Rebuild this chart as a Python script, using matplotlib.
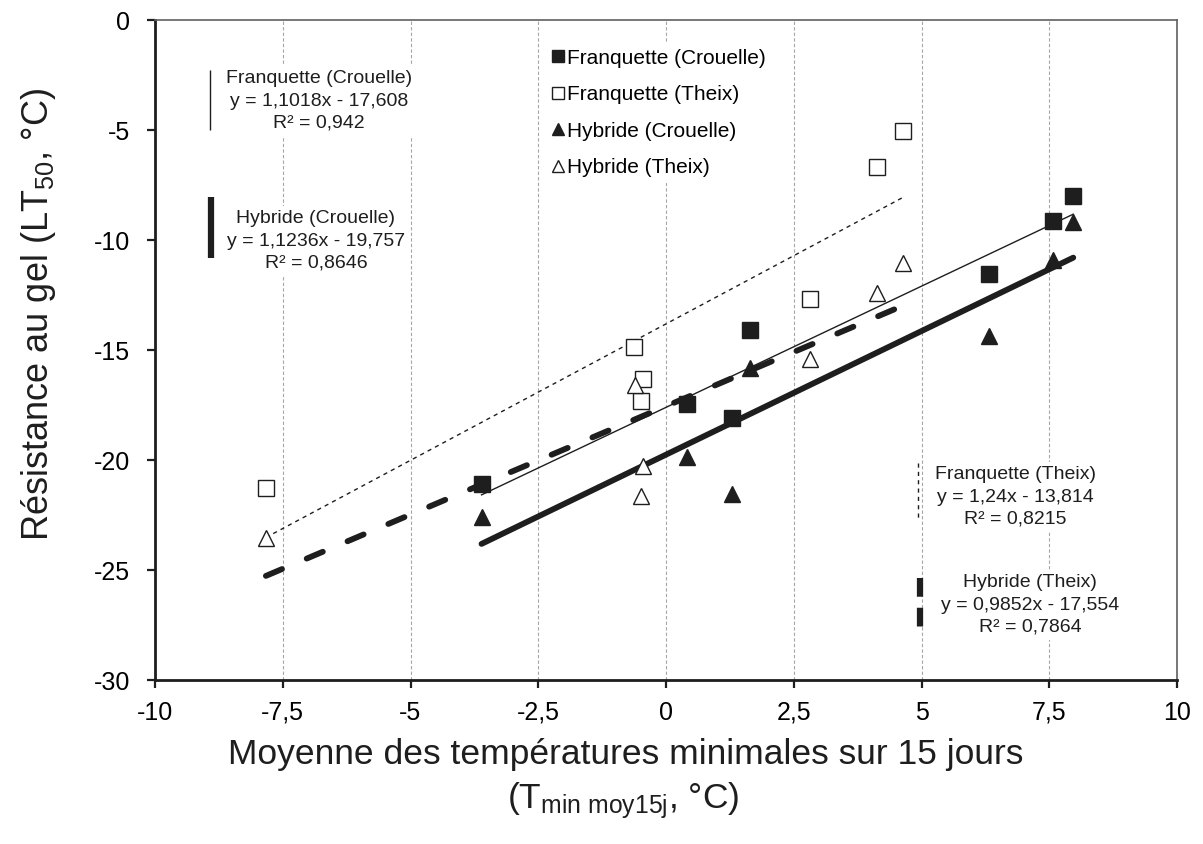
import numpy as np
import matplotlib
matplotlib.use('Agg')
import matplotlib.pyplot as plt
from matplotlib.lines import Line2D

plt.rcParams['font.family'] = ['Liberation Sans', 'DejaVu Sans']
plt.rcParams['mathtext.fontset'] = 'custom'
plt.rcParams['mathtext.rm'] = 'Liberation Sans'
plt.rcParams['mathtext.it'] = 'Liberation Sans:italic'
plt.rcParams['axes.unicode_minus'] = False

# data
fc_x = [-3.61, 0.42, 1.30, 1.64, 6.33, 7.58, 7.97]
fc_y = [-21.1, -17.45, -18.1, -14.1, -11.55, -9.15, -8.0]
ft_x = [-7.83, -0.63, -0.45, -0.49, 2.82, 4.13, 4.64]
ft_y = [-21.25, -14.85, -16.3, -17.3, -12.7, -6.7, -5.05]
hc_x = [-3.61, 0.42, 1.30, 1.64, 6.33, 7.58, 7.97]
hc_y = [-22.6, -19.85, -21.55, -15.8, -14.35, -10.9, -9.2]
ht_x = [-7.83, -0.60, -0.45, -0.49, 2.82, 4.13, 4.64]
ht_y = [-23.55, -16.6, -20.25, -21.65, -15.4, -12.4, -11.05]

# trendline coefficients as printed on the chart
slopes = [1.1018, 1.24, 1.1236, 0.9852]
intercepts = [-17.608, -13.814, -19.757, -17.554]
r2 = ['0,942', '0,8215', '0,8646', '0,7864']
names = ['Franquette (Crouelle)', 'Franquette (Theix)', 'Hybride (Crouelle)', 'Hybride (Theix)']

k = '#1e1e1e'
fig = plt.figure(figsize=(12.03, 8.44), dpi=100)
ax = fig.add_axes([155/1203, 1-680/844, 1022/1203, 660/844])

xs = [fc_x, ft_x, hc_x, ht_x]
ys = [fc_y, ft_y, hc_y, ht_y]
markers = ['s', 's', '^', '^']
faces = [k, 'white', k, 'white']
msizes = [11.5, 11.5, 12, 12]

# trend lines
lstyles = [dict(lw=1.0, ls='-'),
           dict(lw=1.0, ls=(0, (3, 3))),
           dict(lw=4.2, ls='-', solid_capstyle='round'),
           dict(lw=4.2, ls=(0, (3.0, 4.6)), dash_capstyle='round')]
for i in range(4):
    xx = np.array([min(xs[i]), max(xs[i])])
    ax.plot(xx, slopes[i]*xx + intercepts[i], color=k, zorder=3, **lstyles[i])

handles = []
for i in range(4):
    ax.plot(xs[i], ys[i], ls='none', marker=markers[i], ms=msizes[i],
            mfc=faces[i], mec=k, mew=1.0, zorder=4)
    handles.append(Line2D([], [], ls='none', marker=markers[i], ms=8.5,
                          mfc=faces[i], mec=k, mew=1.0))

ax.set_xlim(-10, 10)
ax.set_ylim(-30, 0)
ax.set_xticks(np.arange(-10, 10.1, 2.5))
ax.set_yticks(np.arange(-30, 0.1, 5))
ax.set_xticklabels(['-10', '-7,5', '-5', '-2,5', '0', '2,5', '5', '7,5', '10'])
ax.tick_params(axis='both', labelsize=18, length=6, width=1.6, direction='out', color=k)
ax.tick_params(axis='x', pad=9)
ax.tick_params(axis='y', pad=12)
ax.grid(axis='x', color='#a6a6a6', ls=(0, (3, 2)), lw=0.8, zorder=0)
ax.set_axisbelow(True)
for s in ['left', 'bottom']:
    ax.spines[s].set_linewidth(2)
    ax.spines[s].set_color(k)
for s in ['top', 'right']:
    ax.spines[s].set_linewidth(1.2)
    ax.spines[s].set_color('#606060')

leg = ax.legend(handles, names, loc='upper left', bbox_to_anchor=(0.372, 0.982),
                fontsize=15, frameon=True, handlelength=0.55, handletextpad=0.2,
                labelspacing=0.84, borderpad=0.3)
leg.get_frame().set_edgecolor('none')
leg.get_frame().set_facecolor('white')
leg.get_frame().set_alpha(1)
leg.set_zorder(5)

# trendline labels with their line samples
lab_pos = [(0.1605, 0.877), (0.8415, 0.277), (0.1575, 0.665), (0.856, 0.1136)]
samp = [(0.0538, 0.924, 0.833), (0.7466, 0.329, 0.242), (0.0548, 0.732, 0.639), (0.7485, 0.155, 0.076)]
samp_lw = [1.0, 1.0, 4.5, 4.5]
samp_ls = ['-', (0, (3, 3)), '-', (0, (3.0, 1.76))]
for i in range(4):
    eq = 'y = %s x - %s' % (str(slopes[i]).replace('.', ','), str(-intercepts[i]).replace('.', ','))
    eq = eq.replace(' x', 'x')
    ax.text(lab_pos[i][0], lab_pos[i][1], names[i] + '\n' + eq + '\nR² = ' + r2[i],
            transform=ax.transAxes, ha='center', va='center', fontsize=14,
            linespacing=1.4, color=k, zorder=6,
            bbox=dict(facecolor='white', edgecolor='none', pad=3))
    ax.plot([samp[i][0], samp[i][0]], [samp[i][1], samp[i][2]], transform=ax.transAxes,
            color=k, lw=samp_lw[i], ls=samp_ls[i], zorder=7, solid_capstyle='butt')

fig.text(0.032, 0.628, 'Résistance au gel (LT$_{50}$, °C)', rotation=90,
         ha='center', va='center', fontsize=26, color=k)
fig.text(0.5204, 0.1055, 'Moyenne des températures minimales sur 15 jours',
         ha='center', va='center', fontsize=25.5, color=k)
fig.text(0.518, 0.052, '(T$_{\\mathrm{min\\ moy15j}}$, °C)',
         ha='center', va='center', fontsize=25.5, color=k)

fig.savefig('out.png', dpi=100)
